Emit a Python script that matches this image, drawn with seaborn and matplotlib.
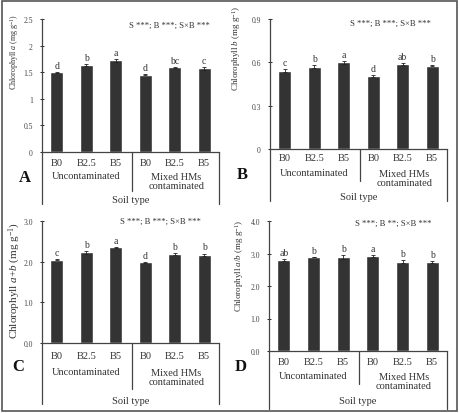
import numpy as np
import pandas as pd
import matplotlib
matplotlib.use("Agg")
import matplotlib.pyplot as plt
import seaborn as sns
from matplotlib.lines import Line2D
from matplotlib.patches import Rectangle

# ---- data ----
biochar = ["B0", "B2.5", "B5", "B0", "B2.5", "B5"]
soil_groups = ["Uncontaminated", "Mixed HMs\ncontaminated"]

chl_a = [1.50, 1.64, 1.72, 1.45, 1.59, 1.57]
chl_a_err = [0.01, 0.02, 0.02, 0.01, 0.01, 0.02]
chl_a_letters = ["d", "b", "a", "d", "bc", "c"]

chl_b = [0.543, 0.570, 0.600, 0.505, 0.586, 0.577]
chl_b_err = [0.010, 0.012, 0.010, 0.005, 0.006, 0.005]
chl_b_letters = ["c", "b", "a", "d", "ab", "b"]

chl_ab = [2.05, 2.23, 2.35, 1.98, 2.19, 2.17]
chl_ab_err = [0.02, 0.03, 0.02, 0.01, 0.02, 0.03]
chl_ab_letters = ["c", "b", "a", "d", "b", "b"]

chl_ratio = [2.81, 2.89, 2.89, 2.91, 2.75, 2.74]
chl_ratio_err = [0.03, 0.01, 0.06, 0.03, 0.04, 0.03]
chl_ratio_letters = ["ab", "b", "b", "a", "b", "b"]

sns.set_style("ticks")
plt.rcParams["font.family"] = ["Liberation Serif", "DejaVu Serif"]
plt.rcParams["mathtext.fontset"] = "custom"
plt.rcParams["mathtext.rm"] = "Liberation Serif"
plt.rcParams["mathtext.it"] = "Liberation Serif:italic"

W, H = 459, 414
fig = plt.figure(figsize=(W / 100, H / 100), dpi=100)
fig.patches.append(Rectangle((0.004, 0.004), 0.992, 0.992, transform=fig.transFigure,
                             fill=False, edgecolor="#555555", lw=1.2))

txt = "#333333"
bar_col = "#333333"

panels = [
    dict(vals=chl_a, errs=chl_a_err, letters=chl_a_letters,
         ylab=r"Chlorophyll $a$ (mg g$^{-1}$)", ylab_fs=5.8, ylab_xy=(-0.12, 0.76),
         ymax=2.5, ticks=[0, 0.5, 1, 1.5, 2, 2.5], tlabels=["0", "0.5", "1", "1.5", "2", "2.5"],
         stats="S ***; B ***; S×B ***", spos=(0.72, 0.955), box=(42, 219, 20, 153),
         plabel="A", poff=(17, 25), rows=(10, 24, 29, 48, 52, 39)),
    dict(vals=chl_b, errs=chl_b_err, letters=chl_b_letters,
         ylab=r"Chlorophyll $b$ (mg g$^{-1}$)", ylab_fs=6.5, ylab_xy=(-0.153, 0.78),
         ymax=0.9, ticks=[0, 0.3, 0.6, 0.9], tlabels=["0", "0.3", "0.6", "0.9"],
         stats="S ***; B ***; S×B ***", spos=(0.68, 0.97), box=(270, 447, 20, 150),
         plabel="B", poff=(28, 25), rows=(9, 24, 29, 48, 52, 32)),
    dict(vals=chl_ab, errs=chl_ab_err, letters=chl_ab_letters,
         ylab=r"Chlorophyll $a$+$b$ (mg g$^{-1}$)", ylab_fs=8, ylab_xy=(-0.107, 0.52),
         ymax=3.0, ticks=[0, 1, 2, 3], tlabels=["0.0", "1.0", "2.0", "3.0"],
         stats="S ***; B ***; S×B ***", spos=(0.67, 1.0), box=(42, 219, 222, 344),
         plabel="C", poff=(24, 23), rows=(12, 29, 34, 58, 61, 46)),
    dict(vals=chl_ratio, errs=chl_ratio_err, letters=chl_ratio_letters,
         ylab=r"Chlorophyll $a/b$ (mg g$^{-1}$)", ylab_fs=6.5, ylab_xy=(-0.13, 0.66),
         ymax=4.0, ticks=[0, 1, 2, 3, 4], tlabels=["0.0", "1.0", "2.0", "3.0", "4.0"],
         stats="S ***; B **; S×B ***", spos=(0.70, 0.985), box=(269, 447, 222, 352),
         plabel="D", poff=(28, 15), rows=(10, 25, 30, 50, 58, 33)),
]

for p in panels:
    l, r, t, b = p["box"]
    ax = fig.add_axes([l / W, (H - b) / H, (r - l) / W, (b - t) / H])
    hpx = b - t
    vals, errs = p["vals"], p["errs"]
    df = pd.DataFrame({"pos": [str(i) for i in range(6)], "value": vals})
    sns.barplot(data=df, x="pos", y="value", ax=ax, color=bar_col, width=0.43,
                saturation=1, errorbar=None)
    ax.errorbar(np.arange(6), vals, yerr=errs, fmt="none", ecolor="#222222",
                elinewidth=0.6, capsize=1.5, capthick=0.6)
    ax.set_xlim(-0.5, 5.5)
    ax.set_ylim(0, p["ymax"])
    ax.set_yticks(p["ticks"])
    ax.set_yticklabels(p["tlabels"], fontsize=5.5, color="#444444")
    ax.set_xticks(range(6))
    ax.set_xticklabels(biochar, fontsize=7.5, color=txt)
    ax.tick_params(axis="x", length=0, pad=p["rows"][0] - 6)
    ax.tick_params(axis="y", direction="inout", length=3, width=0.7, pad=5)
    ax.set_xlabel("")
    ax.set_ylabel(p["ylab"], fontsize=p["ylab_fs"], color=txt)
    ax.yaxis.set_label_coords(*p["ylab_xy"])
    sns.despine(ax=ax)
    for s in ["left", "bottom"]:
        ax.spines[s].set_color("#444444")
        ax.spines[s].set_linewidth(0.9)

    for i, (v, e, lt) in enumerate(zip(vals, errs, p["letters"])):
        ax.annotate(lt, (i, v + e), xytext=(0, 1.5), textcoords="offset points",
                    ha="center", va="bottom", fontsize=7, color=txt)
    ax.text(p["spos"][0], p["spos"][1], p["stats"], transform=ax.transAxes,
            ha="center", va="center", fontsize=6.2, color=txt)

    # table-like structure below the axis
    _, unc_y, mix_y, soil_y, line_y, div_y = p["rows"]
    tr = ax.get_xaxis_transform()
    f = lambda px: -px / hpx
    for xx, yy in [(-0.5, line_y), (5.5, line_y), (2.55, div_y)]:
        ax.add_line(Line2D([xx, xx], [0, f(yy)], transform=tr, color="#444444",
                           lw=0.9, clip_on=False))
    ax.text(1.0, f(unc_y), soil_groups[0], transform=tr, ha="center", va="center",
            fontsize=7.5, color=txt)
    ax.text(4.05, f(mix_y), soil_groups[1], transform=tr, ha="center", va="center",
            fontsize=7.5, color=txt, linespacing=1.0)
    ax.text(2.5, f(soil_y), "Soil type", transform=tr, ha="center", va="center",
            fontsize=7.5, color=txt)
    ax.text(-p["poff"][0] / (r - l), f(p["poff"][1]), p["plabel"], transform=ax.transAxes,
            ha="center", va="center", fontsize=12, fontweight="bold", color="#111111")

fig.savefig("out.png", dpi=100, facecolor="white")
